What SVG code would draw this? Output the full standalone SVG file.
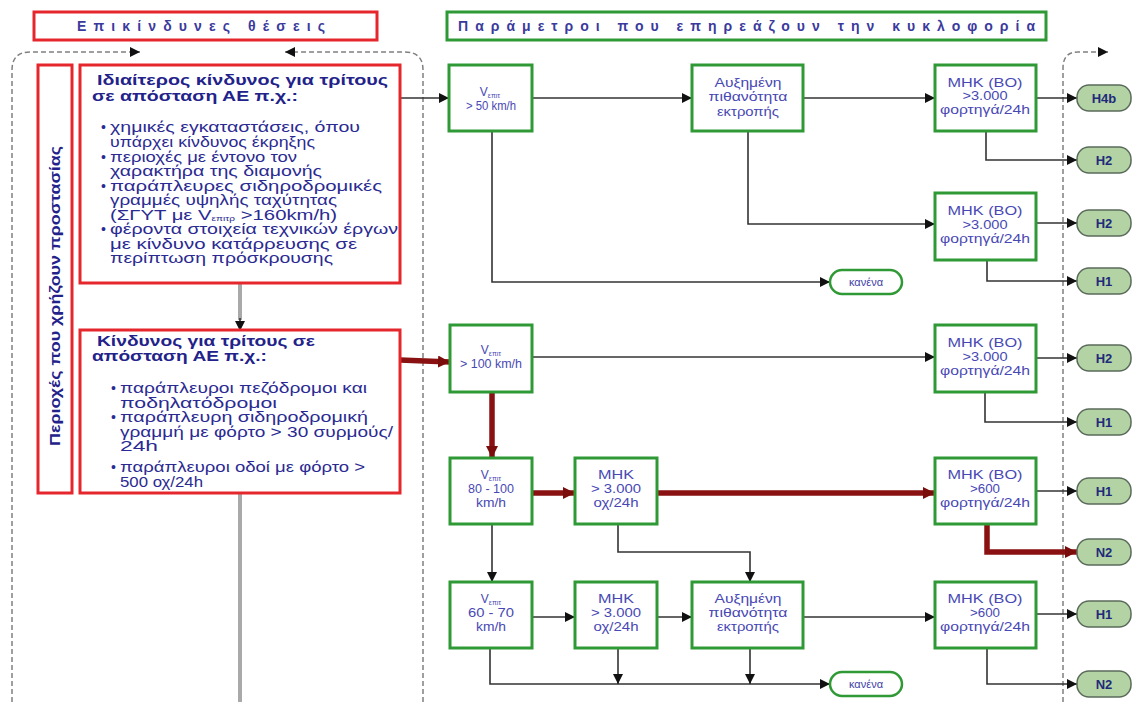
<svg xmlns="http://www.w3.org/2000/svg" width="1135" height="702" viewBox="0 0 1135 702">
<style>
.rb{fill:#fff;stroke:#e5262d;stroke-width:3}
.gb{fill:#fff;stroke:#2f9a35;stroke-width:3}
.ov{fill:#b3d3a5;stroke:#5b6b5b;stroke-width:1.5}
.kn{fill:#fff;stroke:#2f9a35;stroke-width:2.5}
text{font-family:"Liberation Sans",Arial,sans-serif}
.h{font-size:14px;font-weight:bold;fill:#3a3a9c}
.tb{font-size:14px;font-weight:bold;fill:#22228a}
.tl{font-size:14px;fill:#2a2a92}
.gt{font-size:12px;fill:#4848b4;text-anchor:middle}
.sub{font-size:7px}
.ot{font-size:13px;font-weight:bold;fill:#1f2a7a;text-anchor:middle}
.kt{font-size:11px;fill:#4040a8;text-anchor:middle}
.c{fill:none;stroke:#333;stroke-width:1.6}
.r{fill:none;stroke:#8a1111;stroke-width:5.5}
.g{fill:none;stroke:#a9a9a9;stroke-width:4}
.d{fill:none;stroke:#808080;stroke-width:1.5;stroke-dasharray:5 3}
</style>
<defs>
<marker id="a" markerUnits="userSpaceOnUse" markerWidth="10" markerHeight="10" refX="10" refY="5" orient="auto"><path d="M0,0 L10,5 L0,10 z" fill="#111"/></marker>
<marker id="ar" markerUnits="userSpaceOnUse" markerWidth="12" markerHeight="12" refX="12" refY="6" orient="auto"><path d="M0,0 L12,6 L0,12 z" fill="#7a0c0c"/></marker>
</defs>
<rect width="1135" height="702" fill="#fff"/>

<g id="headers">
<rect class="rb" x="34" y="12" width="343" height="28"/>
<text class="h" x="77" y="31" textLength="248">Επικίνδυνες θέσεις</text>
<rect class="gb" x="447" y="12" width="599" height="28"/>
<text class="h" x="458" y="31" textLength="577">Παράμετροι που επηρεάζουν την κυκλοφορία</text>
</g>

<g id="frames">
<path class="d" d="M12,702 V70 Q12,52 30,52 H140" marker-end="url(#a)"/>
<path class="d" d="M423,702 V70 Q423,52 405,52 H285" marker-end="url(#a)"/>
<path class="d" d="M1063,702 V68 Q1063,52 1078,52 H1108" marker-end="url(#a)"/>
</g>

<g id="connectors">
<path class="g" d="M240,283 V320"/>
<path class="c" d="M240,318 V331" marker-end="url(#a)"/>
<path class="g" d="M240,493 V702"/>
<path class="c" d="M400,98 H449" marker-end="url(#a)"/>
<path class="c" d="M532,98 H692" marker-end="url(#a)"/>
<path class="c" d="M803,98 H935" marker-end="url(#a)"/>
<path class="c" d="M1036,98 H1077" marker-end="url(#a)"/>
<path class="c" d="M986,131 V160 H1077" marker-end="url(#a)"/>
<path class="c" d="M748,131 V224 H935" marker-end="url(#a)"/>
<path class="c" d="M1036,223 H1077" marker-end="url(#a)"/>
<path class="c" d="M987,260 V281 H1077" marker-end="url(#a)"/>
<path class="c" d="M492,131 V282 H830" marker-end="url(#a)"/>
<path class="c" d="M532,357 H935" marker-end="url(#a)"/>
<path class="c" d="M1036,358 H1077" marker-end="url(#a)"/>
<path class="c" d="M985,392 V422 H1077" marker-end="url(#a)"/>
<path class="c" d="M1036,491 H1077" marker-end="url(#a)"/>
<path class="c" d="M492,524 V582" marker-end="url(#a)"/>
<path class="c" d="M618,524 V552 H750 V582" marker-end="url(#a)"/>
<path class="c" d="M532,617 H575" marker-end="url(#a)"/>
<path class="c" d="M657,617 H692" marker-end="url(#a)"/>
<path class="c" d="M803,617 H935" marker-end="url(#a)"/>
<path class="c" d="M1036,614 H1077" marker-end="url(#a)"/>
<path class="c" d="M987,648 V684 H1077" marker-end="url(#a)"/>
<path class="c" d="M490,648 V684 H830" marker-end="url(#a)"/>
<path class="c" d="M618,648 V684" marker-end="url(#a)"/>
<path class="c" d="M750,648 V684" marker-end="url(#a)"/>
<path class="r" d="M400,360 L450,362" marker-end="url(#ar)"/>
<path class="r" d="M492,392 V458" marker-end="url(#ar)"/>
<path class="r" d="M532,493 H575" marker-end="url(#ar)"/>
<path class="r" d="M657,493 H935" marker-end="url(#ar)"/>
<path class="r" d="M987,524 V552 H1077" marker-end="url(#ar)"/>
</g>

<g id="side">
<rect class="rb" x="38" y="65" width="34" height="428"/>
<text class="tb" transform="translate(60,296) rotate(-90)" text-anchor="middle" textLength="300" lengthAdjust="spacingAndGlyphs">Περιοχές που χρήζουν προστασίας</text>
</g>

<g id="box1">
<rect class="rb" x="80" y="65" width="320" height="218"/>
<text class="tb" x="97" y="85" textLength="291" lengthAdjust="spacingAndGlyphs">Ιδιαίτερος κίνδυνος για τρίτους</text>
<text class="tb" x="92" y="101" textLength="206" lengthAdjust="spacingAndGlyphs">σε απόσταση ΑΕ π.χ.:</text>
<text class="tl" x="101" y="132">•</text>
<text class="tl" x="110" y="132" textLength="250" lengthAdjust="spacingAndGlyphs">χημικές εγκαταστάσεις, όπου</text>
<text class="tl" x="110" y="147" textLength="205" lengthAdjust="spacingAndGlyphs">υπάρχει κίνδυνος έκρηξης</text>
<text class="tl" x="101" y="161.5">•</text>
<text class="tl" x="110" y="161.5" textLength="187" lengthAdjust="spacingAndGlyphs">περιοχές με έντονο τον</text>
<text class="tl" x="110" y="176" textLength="212" lengthAdjust="spacingAndGlyphs">χαρακτήρα της διαμονής</text>
<text class="tl" x="101" y="190.5">•</text>
<text class="tl" x="110" y="190.5" textLength="272" lengthAdjust="spacingAndGlyphs">παράπλευρες σιδηροδρομικές</text>
<text class="tl" x="110" y="205" textLength="227" lengthAdjust="spacingAndGlyphs">γραμμές υψηλής ταχύτητας</text>
<text class="tl" transform="translate(110,219.5) scale(1.45,1)" x="0" y="0">(ΣΓΥΤ με V<tspan class="sub" dy="1.5">επιτρ</tspan><tspan dy="-1.5"> &gt;160km/h)</tspan></text>
<text class="tl" x="101" y="234">•</text>
<text class="tl" x="110" y="234" textLength="288" lengthAdjust="spacingAndGlyphs">φέροντα στοιχεία τεχνικών έργων</text>
<text class="tl" x="110" y="248.5" textLength="247" lengthAdjust="spacingAndGlyphs">με κίνδυνο κατάρρευσης σε</text>
<text class="tl" x="110" y="263" textLength="223" lengthAdjust="spacingAndGlyphs">περίπτωση πρόσκρουσης</text>
</g>

<g id="box2">
<rect class="rb" x="80" y="330" width="320" height="163"/>
<text class="tb" x="97" y="346" textLength="218" lengthAdjust="spacingAndGlyphs">Κίνδυνος για τρίτους σε</text>
<text class="tb" x="92" y="361" textLength="175" lengthAdjust="spacingAndGlyphs">απόσταση ΑΕ π.χ.:</text>
<text class="tl" x="111" y="393">•</text>
<text class="tl" x="120" y="393" textLength="247" lengthAdjust="spacingAndGlyphs">παράπλευροι πεζόδρομοι και</text>
<text class="tl" x="120" y="407.5" textLength="157" lengthAdjust="spacingAndGlyphs">ποδηλατόδρομοι</text>
<text class="tl" x="111" y="422">•</text>
<text class="tl" x="120" y="422" textLength="248" lengthAdjust="spacingAndGlyphs">παράπλευρη σιδηροδρομική</text>
<text class="tl" x="120" y="436.5" textLength="273" lengthAdjust="spacingAndGlyphs">γραμμή με φόρτο &gt; 30 συρμούς/</text>
<text class="tl" x="120" y="451" textLength="38" lengthAdjust="spacingAndGlyphs">24h</text>
<text class="tl" x="111" y="472">•</text>
<text class="tl" x="120" y="472" textLength="245" lengthAdjust="spacingAndGlyphs">παράπλευροι οδοί με φόρτο &gt;</text>
<text class="tl" x="120" y="487" textLength="83" lengthAdjust="spacingAndGlyphs">500 οχ/24h</text>
</g>

<g id="g1"><rect class="gb" x="449" y="65" width="83" height="66"/>
<text class="gt" x="490" y="96">V<tspan class="sub" dy="2">επιτ</tspan></text>
<text class="gt" x="491" y="110" textLength="50" lengthAdjust="spacingAndGlyphs">&gt; 50 km/h</text></g>
<g id="g2"><rect class="gb" x="692" y="65" width="111" height="66"/>
<text class="gt" x="748" y="87" textLength="67" lengthAdjust="spacingAndGlyphs">Αυξημένη</text>
<text class="gt" x="748" y="101" textLength="79" lengthAdjust="spacingAndGlyphs">πιθανότητα</text>
<text class="gt" x="748" y="116" textLength="62" lengthAdjust="spacingAndGlyphs">εκτροπής</text></g>
<g id="g3"><rect class="gb" x="935" y="65" width="101" height="66"/>
<text class="gt" x="985" y="87" textLength="75" lengthAdjust="spacingAndGlyphs">ΜΗΚ (ΒΟ)</text>
<text class="gt" x="985" y="100" textLength="45" lengthAdjust="spacingAndGlyphs">&gt;3.000</text>
<text class="gt" x="985" y="114" textLength="90" lengthAdjust="spacingAndGlyphs">φορτηγά/24h</text></g>
<g id="g4"><rect class="gb" x="935" y="193" width="101" height="67"/>
<text class="gt" x="985" y="215" textLength="75" lengthAdjust="spacingAndGlyphs">ΜΗΚ (ΒΟ)</text>
<text class="gt" x="985" y="229" textLength="45" lengthAdjust="spacingAndGlyphs">&gt;3.000</text>
<text class="gt" x="985" y="243" textLength="90" lengthAdjust="spacingAndGlyphs">φορτηγά/24h</text></g>
<g id="g5"><rect class="gb" x="450" y="325" width="82" height="67"/>
<text class="gt" x="491" y="354">V<tspan class="sub" dy="2">επιτ</tspan></text>
<text class="gt" x="491" y="368" textLength="62" lengthAdjust="spacingAndGlyphs">&gt; 100 km/h</text></g>
<g id="g6"><rect class="gb" x="935" y="325" width="101" height="67"/>
<text class="gt" x="985" y="347" textLength="75" lengthAdjust="spacingAndGlyphs">ΜΗΚ (ΒΟ)</text>
<text class="gt" x="985" y="361" textLength="45" lengthAdjust="spacingAndGlyphs">&gt;3.000</text>
<text class="gt" x="985" y="375" textLength="90" lengthAdjust="spacingAndGlyphs">φορτηγά/24h</text></g>
<g id="g7"><rect class="gb" x="450" y="458" width="82" height="66"/>
<text class="gt" x="491" y="479">V<tspan class="sub" dy="2">επιτ</tspan></text>
<text class="gt" x="491" y="493" textLength="46" lengthAdjust="spacingAndGlyphs">80 - 100</text>
<text class="gt" x="491" y="507" textLength="30" lengthAdjust="spacingAndGlyphs">km/h</text></g>
<g id="g8"><rect class="gb" x="575" y="458" width="82" height="66"/>
<text class="gt" x="616" y="479" textLength="36" lengthAdjust="spacingAndGlyphs">ΜΗΚ</text>
<text class="gt" x="616" y="493" textLength="50" lengthAdjust="spacingAndGlyphs">&gt; 3.000</text>
<text class="gt" x="616" y="507" textLength="45" lengthAdjust="spacingAndGlyphs">οχ/24h</text></g>
<g id="g9"><rect class="gb" x="935" y="458" width="101" height="66"/>
<text class="gt" x="985" y="479" textLength="75" lengthAdjust="spacingAndGlyphs">ΜΗΚ (ΒΟ)</text>
<text class="gt" x="985" y="493" textLength="30" lengthAdjust="spacingAndGlyphs">&gt;600</text>
<text class="gt" x="985" y="507" textLength="90" lengthAdjust="spacingAndGlyphs">φορτηγά/24h</text></g>
<g id="g10"><rect class="gb" x="450" y="582" width="82" height="66"/>
<text class="gt" x="491" y="603">V<tspan class="sub" dy="2">επιτ</tspan></text>
<text class="gt" x="491" y="617" textLength="46" lengthAdjust="spacingAndGlyphs">60 - 70</text>
<text class="gt" x="491" y="631" textLength="30" lengthAdjust="spacingAndGlyphs">km/h</text></g>
<g id="g11"><rect class="gb" x="575" y="582" width="82" height="66"/>
<text class="gt" x="616" y="603" textLength="36" lengthAdjust="spacingAndGlyphs">ΜΗΚ</text>
<text class="gt" x="616" y="617" textLength="50" lengthAdjust="spacingAndGlyphs">&gt; 3.000</text>
<text class="gt" x="616" y="631" textLength="45" lengthAdjust="spacingAndGlyphs">οχ/24h</text></g>
<g id="g12"><rect class="gb" x="692" y="582" width="111" height="66"/>
<text class="gt" x="748" y="603" textLength="67" lengthAdjust="spacingAndGlyphs">Αυξημένη</text>
<text class="gt" x="748" y="617" textLength="79" lengthAdjust="spacingAndGlyphs">πιθανότητα</text>
<text class="gt" x="748" y="631" textLength="62" lengthAdjust="spacingAndGlyphs">εκτροπής</text></g>
<g id="g13"><rect class="gb" x="935" y="582" width="101" height="66"/>
<text class="gt" x="985" y="603" textLength="75" lengthAdjust="spacingAndGlyphs">ΜΗΚ (ΒΟ)</text>
<text class="gt" x="985" y="617" textLength="30" lengthAdjust="spacingAndGlyphs">&gt;600</text>
<text class="gt" x="985" y="631" textLength="90" lengthAdjust="spacingAndGlyphs">φορτηγά/24h</text></g>

<g id="k1"><rect class="kn" x="830" y="270" width="72" height="24" rx="12"/><text class="kt" x="866" y="286">κανένα</text></g>
<g id="k2"><rect class="kn" x="830" y="672" width="72" height="24" rx="12"/><text class="kt" x="866" y="688">κανένα</text></g>

<g id="o1"><rect class="ov" x="1077" y="85" width="54" height="26" rx="12"/><text class="ot" x="1104" y="103">H4b</text></g>
<g id="o2"><rect class="ov" x="1077" y="147" width="54" height="26" rx="12"/><text class="ot" x="1104" y="165">H2</text></g>
<g id="o3"><rect class="ov" x="1077" y="210" width="54" height="26" rx="12"/><text class="ot" x="1104" y="228">H2</text></g>
<g id="o4"><rect class="ov" x="1077" y="268" width="54" height="26" rx="12"/><text class="ot" x="1104" y="286">H1</text></g>
<g id="o5"><rect class="ov" x="1077" y="345" width="54" height="26" rx="12"/><text class="ot" x="1104" y="363">H2</text></g>
<g id="o6"><rect class="ov" x="1077" y="409" width="54" height="26" rx="12"/><text class="ot" x="1104" y="427">H1</text></g>
<g id="o7"><rect class="ov" x="1077" y="478" width="54" height="26" rx="12"/><text class="ot" x="1104" y="496">H1</text></g>
<g id="o8"><rect class="ov" x="1077" y="539" width="54" height="26" rx="12"/><text class="ot" x="1104" y="557">N2</text></g>
<g id="o9"><rect class="ov" x="1077" y="601" width="54" height="26" rx="12"/><text class="ot" x="1104" y="619">H1</text></g>
<g id="o10"><rect class="ov" x="1077" y="671" width="54" height="26" rx="12"/><text class="ot" x="1104" y="689">N2</text></g>
</svg>
